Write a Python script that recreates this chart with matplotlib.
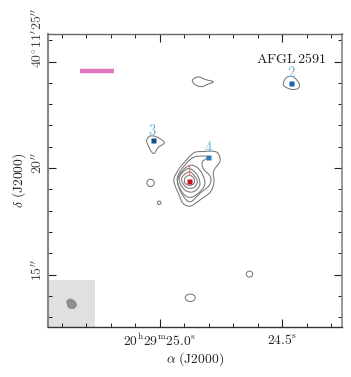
import matplotlib
matplotlib.use('Agg')
import matplotlib.pyplot as plt
from matplotlib.patches import Ellipse, PathPatch, Rectangle
from matplotlib.path import Path
from matplotlib.ticker import MultipleLocator
from matplotlib.transforms import ScaledTranslation

plt.rcParams['mathtext.fontset'] = 'cm'
plt.rcParams['font.family'] = 'cmr10'
plt.rcParams['axes.formatter.use_mathtext'] = True

# source positions (RA seconds, Dec arcsec)
src_names = ['1', '2', '3', '4']
src_ra = [24.8815, 24.465, 25.029, 24.802]
src_dec = [19.39, 24.01, 21.31, 20.52]
src_colors = ['#c8141e', '#1764ab', '#124f86', '#2b7bba']
label_colors = ['#e8747c', '#6aaed6', '#6aaed6', '#6aaed6']

xtick_vals = [25.0, 24.5]
xtick_labels = [r'$20^{\mathrm{h}}29^{\mathrm{m}}25.0^{\mathrm{s}}$', r'$24.5^{\mathrm{s}}$']
ytick_vals = [15, 20, 25]
ytick_labels = [r'$15^{\prime\prime}$', r'$20^{\prime\prime}$', r'$40^{\circ}11^{\prime}25^{\prime\prime}$']

# main source contours, outer to inner
c1_ra = [24.861, 24.823, 24.775, 24.758, 24.755, 24.775, 24.782, 24.779, 24.793, 24.837, 24.875, 24.905, 24.921, 24.943, 24.925, 24.898]
c1_dec = [20.72, 20.78, 20.78, 20.61, 20.30, 19.98, 19.75, 19.36, 18.89, 18.50, 18.22, 18.34, 18.73, 19.41, 19.91, 20.30]
c2_ra = [24.803, 24.857, 24.898, 24.929, 24.911, 24.877, 24.837, 24.798, 24.793, 24.823, 24.826]
c2_dec = [20.53, 20.53, 20.14, 19.52, 18.81, 18.42, 18.81, 19.20, 19.59, 19.98, 20.30]
c3_ra = [24.871, 24.905, 24.928, 24.905, 24.871, 24.830, 24.816, 24.837]
c3_dec = [20.14, 19.91, 19.41, 18.81, 18.63, 18.97, 19.36, 19.91]
c4_ra = [24.880, 24.911, 24.921, 24.898, 24.864, 24.837, 24.847]
c4_dec = [19.98, 19.75, 19.41, 18.97, 18.89, 19.20, 19.67]
c5_ra = [24.880, 24.905, 24.911, 24.891, 24.861, 24.847, 24.861]
c5_dec = [19.83, 19.64, 19.41, 19.09, 19.09, 19.36, 19.67]
c6_ra = [24.880, 24.898, 24.898, 24.880, 24.861, 24.861]
c6_dec = [19.67, 19.52, 19.31, 19.19, 19.28, 19.52]

# isolated contours
c_src3_ra = [25.054, 25.041, 25.014, 24.982, 25.007, 25.023, 25.037, 25.048]
c_src3_dec = [21.31, 21.50, 21.47, 21.20, 20.97, 20.69, 20.81, 21.08]
c_top_ra = [24.867, 24.843, 24.816, 24.782, 24.803, 24.830, 24.857]
c_top_dec = [24.13, 24.28, 24.16, 24.05, 23.94, 23.82, 23.92]
c_src2_ra = [24.496, 24.483, 24.455, 24.431, 24.435, 24.462, 24.489]
c_src2_dec = [23.97, 24.25, 24.28, 23.97, 23.74, 23.69, 23.82]

# small blobs: ra, dec, width, height
blob_ra = [25.038, 25.0027, 24.876, 24.634]
blob_dec = [19.31, 18.375, 13.92, 15.03]
blob_w = [0.030, 0.014, 0.041, 0.026]
blob_h = [0.34, 0.16, 0.347, 0.28]

beam_ra = [25.380, 25.368, 25.351, 25.341, 25.351, 25.372]
beam_dec = [13.74, 13.86, 13.79, 13.60, 13.43, 13.46]

bar_ra = [25.327, 25.188]
bar_dec = [24.55, 24.55]


def closed_curve(ra, dec):
    # closed smooth curve through the read points
    pts = list(zip(ra, dec))
    n = len(pts)
    verts = [pts[0]]
    codes = [Path.MOVETO]
    for i in range(n):
        p0, p1, p2, p3 = pts[i - 1], pts[i], pts[(i + 1) % n], pts[(i + 2) % n]
        c1 = (p1[0] + (p2[0] - p0[0]) / 6, p1[1] + (p2[1] - p0[1]) / 6)
        c2 = (p2[0] - (p3[0] - p1[0]) / 6, p2[1] - (p3[1] - p1[1]) / 6)
        verts += [c1, c2, p2]
        codes += [Path.CURVE4, Path.CURVE4, Path.CURVE4]
    return Path(verts, codes)


fig = plt.figure(figsize=(3.51, 3.77), dpi=100)
ax = fig.add_axes([48 / 351, 50 / 377, 294 / 351, 293 / 377])

ax.add_patch(Rectangle((0, 0), 47 / 294, 47 / 293, transform=ax.transAxes, fc='#e0e0e0', ec='none', zorder=0))
ax.add_patch(PathPatch(closed_curve(beam_ra, beam_dec), fc='#8f8f8f', ec='#808080', lw=0.5, zorder=1))

contours = [(c1_ra, c1_dec), (c2_ra, c2_dec), (c3_ra, c3_dec), (c4_ra, c4_dec), (c5_ra, c5_dec), (c6_ra, c6_dec),
            (c_src3_ra, c_src3_dec), (c_top_ra, c_top_dec), (c_src2_ra, c_src2_dec)]
for cra, cdec in contours:
    ax.add_patch(PathPatch(closed_curve(cra, cdec), fc='none', ec='#777777', lw=0.75, zorder=2))
for r, d, w, h in zip(blob_ra, blob_dec, blob_w, blob_h):
    ax.add_patch(Ellipse((r, d), w, h, fc='none', ec='#777777', lw=0.75, zorder=2))

ax.plot(bar_ra, bar_dec, color='#e377c2', lw=3.2, solid_capstyle='butt', zorder=3)

for name, r, d, col, lcol in zip(src_names, src_ra, src_dec, src_colors, label_colors):
    ax.plot([r], [d], 's', ms=3.6, color=col, mec='none', zorder=4)
    ax.text(r, d + 0.1, '$' + name + '$', color=lcol, fontsize=10.5, ha='center', va='bottom', zorder=5)

ax.text((326 - 48) / 294, 0.915, r'$\mathrm{AFGL\,2591}$', transform=ax.transAxes,
        ha='right', va='center', fontsize=10.1, color='#222222')

ax.set_xlim(25.457, 24.256)
ax.set_ylim(12.55, 26.29)
ax.set_xticks(xtick_vals)
ax.set_xticklabels(xtick_labels, fontsize=9.7, color='#222222')
ax.set_yticks(ytick_vals)
ax.set_yticklabels(ytick_labels, fontsize=10, color='#444444', rotation=90)
ax.xaxis.set_minor_locator(MultipleLocator(0.1))
ax.yaxis.set_minor_locator(MultipleLocator(1))
ax.tick_params(axis='x', which='major', pad=4)
ax.tick_params(axis='y', which='major', pad=2)
ax.tick_params(which='major', direction='in', top=True, right=True, length=5.8, width=0.8, color='#222222')
ax.tick_params(which='minor', direction='in', top=True, right=True, length=2.9, width=0.7, color='#222222')
off = ScaledTranslation(0, -6 / 100, fig.dpi_scale_trans)
for lab in ax.get_yticklabels():
    lab.set_va('bottom')
    lab.set_transform(lab.get_transform() + off)

ax.spines['left'].set(color='#888888', lw=1.5)
ax.spines['right'].set(color='#888888', lw=1.2)
ax.spines['top'].set(color='#666666', lw=1.0)
ax.spines['bottom'].set(color='#333333', lw=1.0)

ax.set_xlabel(r'$\alpha\ (\mathrm{J2000})$', fontsize=9.8, color='#222222', labelpad=1)
ax.set_ylabel(r'$\delta\ (\mathrm{J2000})$', fontsize=9.8, color='#222222', labelpad=2)

plt.savefig('out.png', dpi=100)
